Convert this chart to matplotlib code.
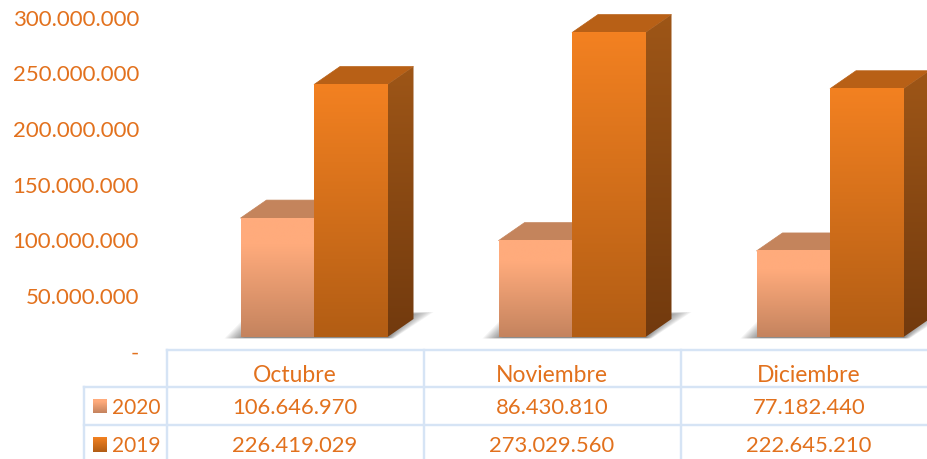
import numpy as np
import matplotlib
matplotlib.use("Agg")
import matplotlib.pyplot as plt
from matplotlib.patches import Polygon
from matplotlib.colors import LinearSegmentedColormap
from matplotlib.transforms import ScaledTranslation, Affine2D

months = ["Octubre", "Noviembre", "Diciembre"]
series_names = ["2020", "2019"]
values_2020 = [106646970, 86430810, 77182440]
values_2019 = [226419029, 273029560, 222645210]
y_ticks = [0, 50000000, 100000000, 150000000, 200000000, 250000000, 300000000]
y_tick_labels = ["-", "50.000.000", "100.000.000", "150.000.000", "200.000.000", "250.000.000", "300.000.000"]
fmt = lambda v: f"{v:,}".replace(",", ".")

W, H, DPI = 927, 460, 100
ORANGE = "#E2711D"
GRID = "#D6E4F5"
FONT = "Lato"
plt.rcParams["font.family"] = [FONT, "DejaVu Sans"]

fig = plt.figure(figsize=(W / DPI, H / DPI), dpi=DPI, facecolor="white")
AX_L = 146
ax = fig.add_axes([AX_L / W, 0, (W - AX_L) / W, 1])
ax.patch.set_visible(False)

PX_X = 258.0        # px per category
PX_Y = 1.115e-6     # px per value unit
BASE_X, BASE_Y = 314.0, 338.0
ax.set_xlim((AX_L - BASE_X) / PX_X, (W - BASE_X) / PX_X)
ax.set_ylim((BASE_Y - H) / PX_Y, BASE_Y / PX_Y)
ax.set_autoscale_on(False)

BW = 73.5 / PX_X
DX, DY = 26 / PX_X, 18 / PX_Y

def vgrad(c_top, c_bot, hold=0.0):
    return LinearSegmentedColormap.from_list("g", [(0, c_top), (hold, c_top), (1, c_bot)] if hold else [(0, c_top), (1, c_bot)])

def grad_image(cmap, x0, x1, y0, y1, clip=None, z=3):
    g = np.linspace(0, 1, 256).reshape(-1, 1)
    im = ax.imshow(g, cmap=cmap, extent=(x0, x1, y0, y1), origin="upper",
                   aspect="auto", interpolation="bilinear", zorder=z)
    if clip is not None:
        im.set_clip_path(clip)
    return im

styles = [
    dict(front=vgrad("#FFAB7C", "#C4835E", 0.22), top="#C4845C", side=None),
    dict(front=vgrad("#F38121", "#B25D14"), top="#B86016", side=vgrad("#9E5617", "#723A0E")),
]

# soft shadows under the bars: stacked translucent parallelograms, shrinking inward
for i in range(len(months)):
    for k in range(14):
        e = k * 1.5          # inset in px
        l_px, r_px = -BW * PX_X, BW * PX_X
        poly = Polygon([((l_px - 16 + e) / PX_X, -1.5 / PX_Y + e * 0.03 / PX_Y),
                        ((r_px + 6 - e * 0.3) / PX_X, -1.5 / PX_Y + e * 0.03 / PX_Y),
                        ((r_px + 46 - e * 1.4) / PX_X, (25 - e * 0.15) / PX_Y),
                        ((l_px + 10 + e) / PX_X, (25 - e * 0.15) / PX_Y)],
                       closed=True, fc="#333333", ec="none", alpha=0.055, zorder=1)
        poly.set_xy(poly.get_xy() + np.array([i, 0.0]))
        ax.add_patch(poly)

# bars
for s, vals in enumerate([values_2020, values_2019]):
    st = styles[s]
    for i, v in enumerate(vals):
        l = i - BW + s * BW
        r = l + BW
        top = Polygon([(l, v), (r, v), (r + DX, v + DY), (l + DX, v + DY)],
                      closed=True, fc=st["top"], ec=st["top"], lw=0.5, zorder=2 + s * 2)
        ax.add_patch(top)
        if st["side"] is not None:
            side = Polygon([(r, 0), (r, v), (r + DX, v + DY), (r + DX, DY)],
                           closed=True, fc="none", ec="none", zorder=2 + s * 2, transform=ax.transData)
            ax.add_patch(side)
            grad_image(st["side"], r, r + DX, 0, v + DY, clip=side, z=2 + s * 2)
        grad_image(st["front"], l, r, 0, v, z=3 + s * 2)

ax.set_xticks([])
ax.set_yticks(y_ticks)
ax.set_yticklabels(y_tick_labels, fontsize=16, color=ORANGE)
ax.tick_params(axis="y", length=0, pad=5)
for sp in ax.spines.values():
    sp.set_visible(False)
shift = ScaledTranslation(0, -14 / DPI, fig.dpi_scale_trans)
for lab in ax.get_yticklabels():
    lab.set_transform(lab.get_transform() + shift)

# data table (pixel layout, y down)
px = Affine2D().scale(1, -1).translate(0, H)
col_x = [167, 424, 681, 938]
row_y = [351, 388, 426, 464]
LW = 2.4 * 72 / DPI
def line(x0, y0, x1, y1):
    fig.add_artist(plt.Line2D([x0, x1], [y0, y1], color=GRID, lw=LW, transform=px, zorder=1))
for x in col_x:
    line(x, row_y[0], x, H + 2)
line(84, row_y[1], 84, H + 2)
line(col_x[0], row_y[0], W + 2, row_y[0])
for y in row_y[1:3]:
    line(84, y, W + 2, y)

def txt(x, y, s, ha="center", size=15.8):
    fig.text(x, y, s, transform=px, ha=ha, va="center", fontsize=size, color=ORANGE)

for c, m in enumerate(months):
    cx = (col_x[c] + col_x[c + 1]) / 2 - 0.5
    txt(cx, 376, m, size=16.5)
    txt(cx, 408, fmt(values_2020[c]))
    txt(cx, 446, fmt(values_2019[c]))

swatches = [vgrad("#FFAB7C", "#C4835E", 0.22), vgrad("#F38121", "#B25D14")]
for r, (name, cy) in enumerate(zip(series_names, [407, 445])):
    txt(112, cy + 1, name, ha="left", size=15)
    sw = fig.add_axes([93 / W, 1 - (cy + 7.5) / H, 14 / W, 15 / H])
    sw.imshow(np.linspace(0, 1, 64).reshape(-1, 1), cmap=swatches[r], aspect="auto")
    sw.axis("off")

fig.savefig("out.png", dpi=DPI, facecolor="white")
